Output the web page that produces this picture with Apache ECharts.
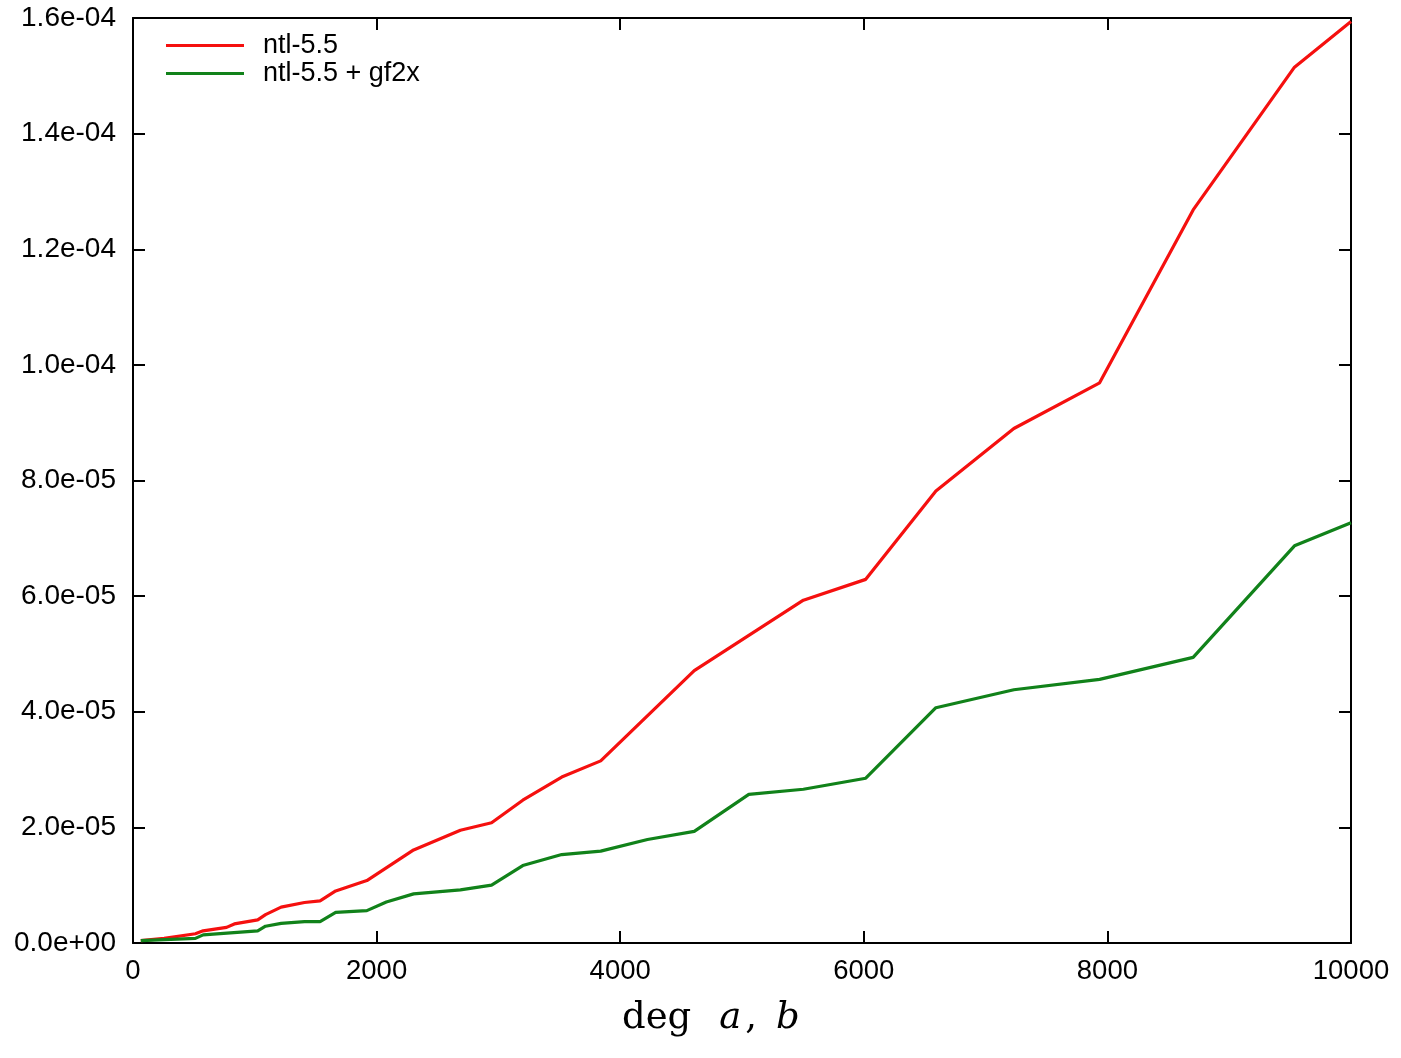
<!DOCTYPE html>
<html>
<head>
<meta charset="utf-8">
<title>ntl-5.5 vs ntl-5.5 + gf2x</title>
<script src="https://cdn.jsdelivr.net/npm/echarts@6/dist/echarts.min.js"></script>
<style>
  html, body { margin: 0; padding: 0; background: #ffffff; }
  #chart { width: 1401px; height: 1058px; }
</style>
</head>
<body>
<div id="chart"></div>
<script>
// Degree of the polynomials a, b
const ntlDeg = [64, 256, 512, 576, 768, 832, 1024, 1088, 1216, 1408, 1536, 1664, 1920,
  2304, 2688, 2944, 3200, 3520, 3840, 4608, 5504, 6016, 6592, 7232, 7936, 8704, 9536, 10000];
// Timings for ntl-5.5 (seconds)
const ntlTime = [0.04e-5, 0.08e-5, 0.16e-5, 0.21e-5, 0.27e-5, 0.33e-5, 0.40e-5, 0.49e-5, 0.62e-5,
  0.70e-5, 0.73e-5, 0.90e-5, 1.08e-5, 1.61e-5, 1.95e-5, 2.08e-5, 2.47e-5, 2.87e-5, 3.15e-5,
  4.71e-5, 5.93e-5, 6.29e-5, 7.82e-5, 8.90e-5, 9.69e-5, 12.68e-5, 15.15e-5, 15.94e-5];

const gf2xDeg = [64, 512, 576, 1024, 1088, 1216, 1408, 1536, 1664, 1920, 2080, 2304, 2688,
  2944, 3200, 3520, 3840, 4224, 4608, 5056, 5504, 6016, 6592, 7232, 7936, 8704, 9536, 10000];
// Timings for ntl-5.5 + gf2x (seconds)
const gf2xTime = [0.04e-5, 0.08e-5, 0.14e-5, 0.21e-5, 0.29e-5, 0.34e-5, 0.37e-5, 0.37e-5,
  0.53e-5, 0.56e-5, 0.71e-5, 0.85e-5, 0.92e-5, 1.00e-5, 1.34e-5, 1.53e-5, 1.59e-5, 1.79e-5,
  1.93e-5, 2.57e-5, 2.66e-5, 2.85e-5, 4.07e-5, 4.38e-5, 4.56e-5, 4.94e-5, 6.87e-5, 7.27e-5];

const seriesNames = ['ntl-5.5', 'ntl-5.5 + gf2x'];
const xTicks = { min: 0, max: 10000, step: 2000 };
const yTicks = { min: 0, max: 1.6e-4, step: 2e-5 };

const SANS = '"Liberation Sans", Arial, Helvetica, sans-serif';
const SERIF = '"DejaVu Serif", serif';
const GRID = { left: 133, right: 50, top: 18, bottom: 115 };

function zip(xs, ys) { return xs.map((x, i) => [x, ys[i]]); }

// gnuplot-style exponent labels: 1.6e-04, 0.0e+00
function expLabel(v) {
  if (Math.abs(v) < 1e-20) return '0.0e+00';
  const s = v.toExponential(1);
  const m = s.match(/^(-?[\d.]+)e([+-])(\d+)$/);
  const e = m[3].length < 2 ? '0' + m[3] : m[3];
  return m[1] + 'e' + m[2] + e;
}

const frameLine = { show: true, onZero: false, lineStyle: { color: '#000', width: 2 } };
const tickIn = { show: true, inside: true, length: 12, lineStyle: { color: '#000', width: 2 } };

const chart = echarts.init(document.getElementById('chart'), null, { renderer: 'canvas' });
chart.setOption({
  animation: false,
  backgroundColor: '#ffffff',
  grid: Object.assign({ show: false }, GRID),
  legend: {
    orient: 'vertical',
    left: 161,
    top: 27,
    icon: 'rect',
    itemWidth: 78,
    itemHeight: 3,
    itemGap: 1,
    data: seriesNames,
    textStyle: { fontFamily: SANS, fontSize: 27, color: '#000', padding: [0, 0, 0, 14], lineHeight: 25 }
  },
  xAxis: [
    {
      type: 'value', position: 'bottom',
      min: xTicks.min, max: xTicks.max, interval: xTicks.step,
      axisLine: frameLine, axisTick: tickIn, splitLine: { show: false },
      axisLabel: { color: '#000', fontFamily: SANS, fontSize: 27.5, margin: 14,
        formatter: (v) => String(Math.round(v)) }
    },
    {
      type: 'value', position: 'top',
      min: xTicks.min, max: xTicks.max, interval: xTicks.step,
      axisLine: frameLine, axisTick: tickIn, splitLine: { show: false },
      axisLabel: { show: false }
    }
  ],
  yAxis: [
    {
      type: 'value', position: 'left',
      min: yTicks.min, max: yTicks.max, interval: yTicks.step,
      axisLine: frameLine, axisTick: tickIn, splitLine: { show: false },
      axisLabel: { color: '#000', fontFamily: SANS, fontSize: 28, margin: 17, formatter: expLabel }
    },
    {
      type: 'value', position: 'right',
      min: yTicks.min, max: yTicks.max, interval: yTicks.step,
      axisLine: frameLine, axisTick: tickIn, splitLine: { show: false },
      axisLabel: { show: false }
    }
  ],
  graphic: [
    {
      type: 'text',
      left: 622,
      top: 1000,
      style: {
        text: '{r|deg}{ia|a}{r|,}{ib|b}',
        rich: {
          r: { fontFamily: SERIF, fontSize: 37, fill: '#000' },
          ia: { fontFamily: SERIF, fontStyle: 'italic', fontSize: 37, fill: '#000', padding: [0, 4, 0, 28] },
          ib: { fontFamily: SERIF, fontStyle: 'italic', fontSize: 37, fill: '#000', padding: [0, 0, 0, 19] }
        }
      }
    }
  ],
  series: [
    {
      name: seriesNames[0], type: 'line', xAxisIndex: 0, yAxisIndex: 0,
      data: zip(ntlDeg, ntlTime), showSymbol: false, clip: true,
      lineStyle: { color: '#f5100f', width: 3.2 }, itemStyle: { color: '#f5100f' }
    },
    {
      // same scales as the bottom/left axes; bound to the mirrored top/right pair
      name: seriesNames[1], type: 'line', xAxisIndex: 1, yAxisIndex: 1,
      data: zip(gf2xDeg, gf2xTime), showSymbol: false, clip: true,
      lineStyle: { color: '#11821a', width: 3.2 }, itemStyle: { color: '#11821a' }
    }
  ]
});
</script>
</body>
</html>
